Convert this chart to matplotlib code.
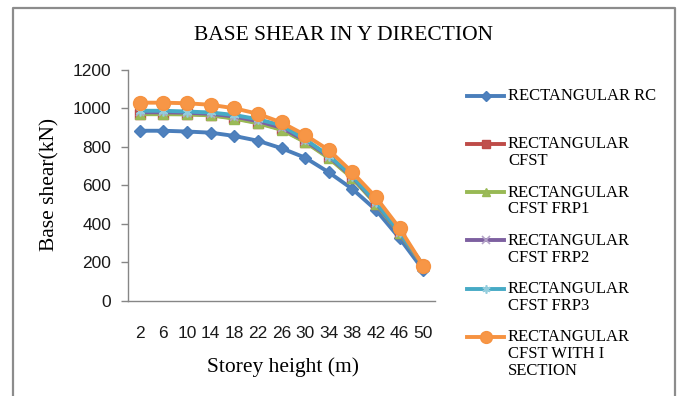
import matplotlib
matplotlib.use("Agg")
import matplotlib.pyplot as plt
from matplotlib.lines import Line2D

# Storey heights (m) and base shear (kN) for each section type
storey = ["2", "6", "10", "14", "18", "22", "26", "30", "34", "38", "42", "46", "50"]

rect_rc = [884, 884, 880, 874, 857, 832, 793, 744, 668, 581, 472, 325, 160]
rect_cfst = [972, 972, 971, 966, 950, 926, 892, 828, 745, 640, 505, 352, 183]
rect_cfst_frp1 = [970, 970, 969, 964, 947, 923, 889, 825, 742, 637, 503, 350, 182]
rect_cfst_frp2 = [980, 980, 978, 972, 958, 934, 900, 833, 750, 644, 508, 354, 184]
rect_cfst_frp3 = [988, 988, 984, 979, 966, 944, 912, 840, 755, 648, 512, 356, 185]
rect_cfst_isec = [1030, 1030, 1027, 1019, 1001, 972, 927, 862, 784, 668, 538, 377, 182]

series_labels = [
    "RECTANGULAR RC",
    "RECTANGULAR\nCFST",
    "RECTANGULAR\nCFST FRP1",
    "RECTANGULAR\nCFST FRP2",
    "RECTANGULAR\nCFST FRP3",
    "RECTANGULAR\nCFST WITH I\nSECTION",
]
series_values = [rect_rc, rect_cfst, rect_cfst_frp1, rect_cfst_frp2,
                 rect_cfst_frp3, rect_cfst_isec]

styles = [
    dict(color="#4A7EBB", marker="D", ms=6.5, mfc="#4F81BD", mec="#4A7EBB"),
    dict(color="#BE4B48", marker="s", ms=7.5, mfc="#C0504D", mec="#BE4B48"),
    dict(color="#98B954", marker="^", ms=7, mfc="#9BBB59", mec="#98B954"),
    dict(color="#7D60A0", marker="x", ms=6, mfc="#8064A2", mec="#B3A2C7", mew=1.2),
    dict(color="#46AAC5", marker=(6, 2, 0), ms=7, mfc="#4BACC6", mec="#93CDDD", mew=1.2),
    dict(color="#F69240", marker="o", ms=10, mfc="#F79646", mec="#F69240"),
]

W, H = 677, 396
fig = plt.figure(figsize=(W / 100, H / 100), dpi=100)
fig.patch.set_facecolor("white")

serif = ["Liberation Serif", "DejaVu Serif"]
sans = ["Liberation Sans", "DejaVu Sans"]

# Chart frame (left, top and right edges)
frame_col = "#8C8C8C"
fx0, fx1, fy0 = 12.5 / W, 675.0 / W, 1 - 7.5 / H
fig.add_artist(Line2D([fx0, fx0, fx1, fx1], [0, fy0, fy0, 0],
                      transform=fig.transFigure, color=frame_col, lw=1.6))

ax_l, ax_r, ax_t, ax_b = 128, 435, 70, 300.7
ax = fig.add_axes([ax_l / W, 1 - ax_b / H, (ax_r - ax_l) / W, (ax_b - ax_t) / H])

xs = list(range(len(storey)))
for vals, st in zip(series_values, styles):
    ax.plot(xs, vals, lw=2.8, solid_capstyle="round", solid_joinstyle="round", **st)

ax.set_xlim(-0.5, len(storey) - 0.5)
ax.set_ylim(0, 1200)
ax.set_yticks(range(0, 1201, 200))
ax.set_xticks(xs)
ax.set_xticklabels(storey)
for sp in ("top", "right"):
    ax.spines[sp].set_visible(False)
for sp in ("left", "bottom"):
    ax.spines[sp].set_color("#868686")
    ax.spines[sp].set_linewidth(1.0)
ax.tick_params(axis="y", length=5, width=1.0, color="#868686", pad=7,
               labelsize=12.5)
ax.tick_params(axis="x", length=0, pad=18, labelsize=12.5)
for lbl in ax.get_xticklabels() + ax.get_yticklabels():
    lbl.set_family(sans)
    lbl.set_color("#1A1A1A")

# Titles
fig.text(343 / W, 1 - 35 / H, "BASE SHEAR IN Y DIRECTION", family=serif,
         fontsize=15.5, ha="center", va="center")
fig.text(50 / W, 1 - 184 / H, "Base shear(kN)", family=serif, fontsize=15.5,
         rotation=90, ha="center", va="center")
fig.text(283 / W, 1 - 367 / H, "Storey height (m)", family=serif,
         fontsize=15.5, ha="center", va="center")

# Legend
first_y = 95.7
step = 48.2
for i, (lab, st) in enumerate(zip(series_labels, styles)):
    y = first_y + i * step
    yf = 1 - y / H
    fig.add_artist(Line2D([467 / W, 504 / W], [yf, yf], transform=fig.transFigure,
                          color=st["color"], lw=2.8))
    mk = dict(st)
    mk.pop("color")
    mk["ms"] = mk["ms"] * 0.85
    fig.add_artist(Line2D([485.5 / W], [yf], transform=fig.transFigure,
                          ls="none", **mk))
    fig.text(508 / W, 1 - (y - 7.5) / H, lab, family=serif, fontsize=12,
             ha="left", va="top", linespacing=1.06)

fig.savefig("out.png", dpi=100, facecolor="white")
